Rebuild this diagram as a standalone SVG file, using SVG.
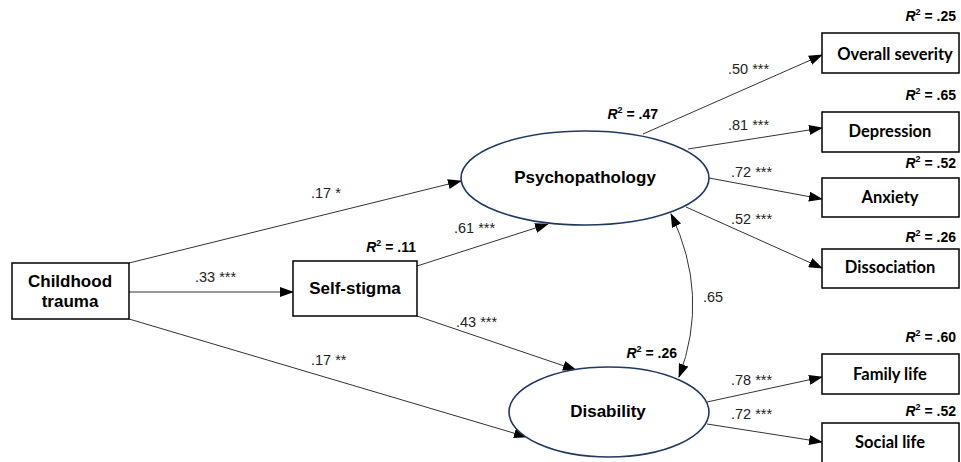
<svg xmlns="http://www.w3.org/2000/svg" width="961" height="462" viewBox="0 0 961 462">
<style>
.box{fill:#fff;stroke:#000;stroke-width:1.5}
.ell{fill:#fff;stroke:#1f3864;stroke-width:1.6}
.lat{font-family:"Liberation Sans",Arial,sans-serif;font-weight:bold;font-size:17px;fill:#000;text-anchor:middle}
.obs{font-family:Lato,"Liberation Sans",sans-serif;font-weight:bold;font-size:16.5px;fill:#000;text-anchor:middle}
.coef{font-family:"Liberation Sans",Arial,sans-serif;font-size:14.5px;fill:#222}
.r2{font-family:"Liberation Sans",Arial,sans-serif;font-weight:bold;font-size:14px;fill:#000}
.conn{stroke:#333;stroke-width:1;fill:none}
</style>
<defs>
<marker id="ah" markerWidth="14" markerHeight="10" refX="13" refY="5" orient="auto" markerUnits="userSpaceOnUse">
<path d="M0,0 L14,5 L0,10 z" fill="#000"/>
</marker>
<marker id="ahs" markerWidth="14" markerHeight="10" refX="13" refY="5" orient="auto-start-reverse" markerUnits="userSpaceOnUse">
<path d="M0,0 L14,5 L0,10 z" fill="#000"/>
</marker>
</defs>

<g id="connectors">
<line class="conn" x1="129" y1="263" x2="461" y2="181" marker-end="url(#ah)"/>
<line class="conn" x1="129" y1="292" x2="293" y2="292" marker-end="url(#ah)"/>
<line class="conn" x1="129" y1="319" x2="527" y2="437" marker-end="url(#ah)"/>
<line class="conn" x1="417" y1="266" x2="548" y2="224" marker-end="url(#ah)"/>
<line class="conn" x1="417" y1="316" x2="576" y2="370" marker-end="url(#ah)"/>
<line class="conn" x1="643" y1="134" x2="822" y2="55" marker-end="url(#ah)"/>
<line class="conn" x1="688" y1="149" x2="822" y2="128" marker-end="url(#ah)"/>
<line class="conn" x1="709" y1="178" x2="822" y2="199" marker-end="url(#ah)"/>
<line class="conn" x1="686" y1="207" x2="822" y2="268" marker-end="url(#ah)"/>
<line class="conn" x1="707" y1="402" x2="822" y2="377" marker-end="url(#ah)"/>
<line class="conn" x1="707" y1="424" x2="822" y2="442" marker-end="url(#ah)"/>
<path class="conn" d="M671,214 Q710,295 679,377" marker-start="url(#ahs)" marker-end="url(#ahs)"/>
<text class="coef" x="311" y="198">.17 *</text>
<text class="coef" x="195" y="282">.33 ***</text>
<text class="coef" x="311" y="365">.17 **</text>
<text class="coef" x="454" y="233">.61 ***</text>
<text class="coef" x="456" y="327">.43 ***</text>
<text class="coef" x="728" y="74">.50 ***</text>
<text class="coef" x="728" y="130">.81 ***</text>
<text class="coef" x="731" y="177">.72 ***</text>
<text class="coef" x="731" y="224">.52 ***</text>
<text class="coef" x="703" y="302">.65</text>
<text class="coef" x="731" y="385">.78 ***</text>
<text class="coef" x="731" y="419">.72 ***</text>
</g>

<g id="childhood-trauma">
<rect class="box" x="12" y="263" width="117" height="56"/>
<text class="lat" x="70" y="287">Childhood</text>
<text class="lat" x="70" y="307">trauma</text>
</g>

<g id="self-stigma">
<rect class="box" x="293" y="261" width="124" height="55"/>
<text class="lat" x="355" y="294">Self-stigma</text>
<text class="r2" x="416" y="252" text-anchor="end"><tspan font-style="italic">R</tspan><tspan font-size="9" dy="-6">2</tspan><tspan dy="6"> = .11</tspan></text>
</g>

<g id="psychopathology">
<ellipse class="ell" cx="585" cy="178" rx="124" ry="47"/>
<text class="lat" x="585" y="183">Psychopathology</text>
<text class="r2" x="658" y="119" text-anchor="end"><tspan font-style="italic">R</tspan><tspan font-size="9" dy="-6">2</tspan><tspan dy="6"> = .47</tspan></text>
</g>

<g id="disability">
<ellipse class="ell" cx="609" cy="412" rx="100" ry="45"/>
<text class="lat" x="608" y="417">Disability</text>
<text class="r2" x="677" y="358" text-anchor="end"><tspan font-style="italic">R</tspan><tspan font-size="9" dy="-6">2</tspan><tspan dy="6"> = .26</tspan></text>
</g>

<g id="overall-severity">
<rect class="box" x="822" y="33" width="137" height="40"/>
<text class="obs" x="895" y="60">Overall severity</text>
<text class="r2" x="956" y="21" text-anchor="end"><tspan font-style="italic">R</tspan><tspan font-size="9" dy="-6">2</tspan><tspan dy="6"> = .25</tspan></text>
</g>

<g id="depression">
<rect class="box" x="822" y="112" width="137" height="40"/>
<text class="obs" x="890" y="137">Depression</text>
<text class="r2" x="956" y="100" text-anchor="end"><tspan font-style="italic">R</tspan><tspan font-size="9" dy="-6">2</tspan><tspan dy="6"> = .65</tspan></text>
</g>

<g id="anxiety">
<rect class="box" x="822" y="178" width="137" height="39"/>
<text class="obs" x="890" y="203">Anxiety</text>
<text class="r2" x="956" y="168" text-anchor="end"><tspan font-style="italic">R</tspan><tspan font-size="9" dy="-6">2</tspan><tspan dy="6"> = .52</tspan></text>
</g>

<g id="dissociation">
<rect class="box" x="822" y="249" width="137" height="39"/>
<text class="obs" x="890" y="273">Dissociation</text>
<text class="r2" x="956" y="242" text-anchor="end"><tspan font-style="italic">R</tspan><tspan font-size="9" dy="-6">2</tspan><tspan dy="6"> = .26</tspan></text>
</g>

<g id="family-life">
<rect class="box" x="822" y="354" width="137" height="40"/>
<text class="obs" x="890" y="380">Family life</text>
<text class="r2" x="956" y="342" text-anchor="end"><tspan font-style="italic">R</tspan><tspan font-size="9" dy="-6">2</tspan><tspan dy="6"> = .60</tspan></text>
</g>

<g id="social-life">
<rect class="box" x="822" y="423" width="137" height="45"/>
<text class="obs" x="890" y="448">Social life</text>
<text class="r2" x="956" y="416" text-anchor="end"><tspan font-style="italic">R</tspan><tspan font-size="9" dy="-6">2</tspan><tspan dy="6"> = .52</tspan></text>
</g>
</svg>
